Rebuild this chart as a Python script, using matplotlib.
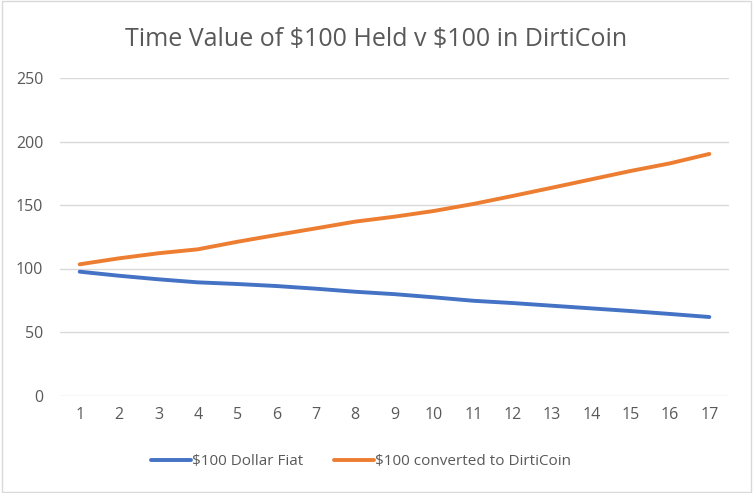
import matplotlib
matplotlib.use('Agg')
import matplotlib.pyplot as plt
from matplotlib.patches import Rectangle

periods = list(range(1, 18))
fiat = [97.5, 94.3, 91.5, 89.1, 87.8, 86.2, 84.1, 81.7, 79.8, 77.3, 74.6, 72.8, 70.7, 68.6, 66.5, 64.2, 61.8]
dirticoin = [103.3, 108.0, 112.0, 115.1, 121.0, 126.4, 131.6, 136.9, 140.8, 145.3, 150.8, 157.1, 163.6, 170.2, 176.8, 182.8, 190.2]
labels = [r'\$100 Dollar Fiat', r'\$100 converted to DirtiCoin']

plt.rcParams['font.family'] = ['Open Sans', 'DejaVu Sans']
txt = '#595959'

fig = plt.figure(figsize=(7.53, 4.93), dpi=100)
fig.patches.append(Rectangle((0.002, 0.002), 0.996, 0.995, transform=fig.transFigure,
                             fill=False, edgecolor='#d9d9d9', linewidth=1))
ax = fig.add_axes([60/753, 1-395.5/493, 669/753, 317.5/493])

ax.plot(periods, fiat, color='#4472C4', lw=2.8, solid_capstyle='round', label=labels[0])
ax.plot(periods, dirticoin, color='#ED7D31', lw=2.8, solid_capstyle='round', label=labels[1])

ax.set_xlim(0.5, 17.5)
ax.set_ylim(0, 250)
ax.set_xticks(periods)
ax.set_yticks(range(0, 251, 50))
ax.grid(axis='y', color='#d9d9d9', lw=1)
ax.set_axisbelow(True)
for s in ax.spines.values():
    s.set_visible(False)
ax.tick_params(length=0, labelsize=11.5, labelcolor=txt)
ax.tick_params(axis='y', pad=12)
ax.tick_params(axis='x', pad=8)

fig.text(0.5, 1-39/493, r'Time Value of \$100 Held v \$100 in DirtiCoin', ha='center', va='center',
         fontsize=18, color=txt)
fig.legend(loc='center', bbox_to_anchor=(361/753, 1-462/493), ncol=2, frameon=False,
           fontsize=11, labelcolor=txt, handlelength=2.6, handletextpad=0.1, columnspacing=2.0)

fig.savefig('out.png', dpi=100)
